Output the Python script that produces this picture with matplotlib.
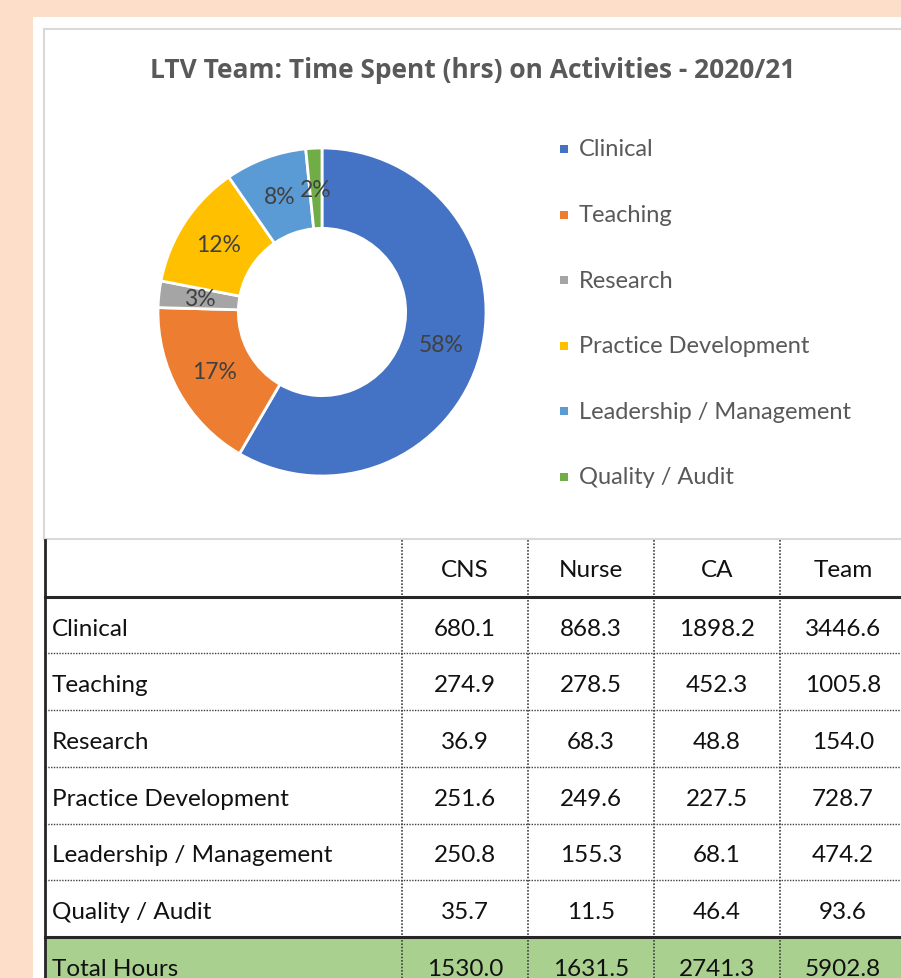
import matplotlib
matplotlib.use("Agg")
import matplotlib.pyplot as plt
from matplotlib.patches import Rectangle

# ---------------- data ----------------
title = "LTV Team: Time Spent (hrs) on Activities - 2020/21"
categories = ["Clinical", "Teaching", "Research", "Practice Development",
              "Leadership / Management", "Quality / Audit"]
columns = ["CNS", "Nurse", "CA", "Team"]
cns = [680.1, 274.9, 36.9, 251.6, 250.8, 35.7]
nurse = [868.3, 278.5, 68.3, 249.6, 155.3, 11.5]
ca = [1898.2, 452.3, 48.8, 227.5, 68.1, 46.4]
team = [3446.6, 1005.8, 154.0, 728.7, 474.2, 93.6]
total_label = "Total Hours"
totals = [1530.0, 1631.5, 2741.3, 5902.8]
colors = ["#4472C4", "#ED7D31", "#A5A5A5", "#FFC000", "#5B9BD5", "#70AD47"]

FONT = "Lato"
W, H = 901, 979
fig = plt.figure(figsize=(W / 100, H / 100), dpi=100)
fig.patch.set_facecolor("#FDDFC9")

# background / table axes in pixel coordinates
bg = fig.add_axes([0, 0, 1, 1])
bg.set_xlim(0, W)
bg.set_ylim(H, 0)
bg.axis("off")

# white panel
bg.add_patch(Rectangle((33, 18), W - 33 + 5, H, facecolor="white", edgecolor="none", zorder=0))
# chart area border
bg.plot([44, 44], [30, 540], color="#D9D9D9", lw=1.5, zorder=1)
bg.plot([44, W + 5], [30, 30], color="#D9D9D9", lw=1.5, zorder=1)
bg.plot([44, W + 5], [540, 540], color="#D9D9D9", lw=1.5, zorder=1)

bg.text(473, 70, title, ha="center", va="center", fontsize=19, fontweight="bold",
        color="#595959", family="Open Sans")

# ---------------- donut ----------------
cx, cy, R = 322, 313, 164
pax = fig.add_axes([(cx - R) / W, (H - cy - R) / H, 2 * R / W, 2 * R / H])
wedges, texts, autotexts = pax.pie(
    team, colors=colors, startangle=90, counterclock=False, radius=1.0,
    autopct=lambda p: f"{p:.0f}%", pctdistance=0.75,
    wedgeprops=dict(width=0.49, edgecolor="white", linewidth=2),
    textprops=dict(fontsize=16.5, color="#404040", family=FONT))
pax.set_xlim(-1, 1)
pax.set_ylim(-1, 1)
pax.set_aspect("auto")
pax.axis("off")

# legend
leg_y0, leg_dy = 150, 65.6
for i, (cat, col) in enumerate(zip(categories, colors)):
    y = leg_y0 + i * leg_dy
    bg.add_patch(Rectangle((560, y - 4), 8, 8, facecolor=col, edgecolor="none", zorder=3))
    bg.text(579, y, cat, ha="left", va="center", fontsize=17, color="#595959", family=FONT)

# ---------------- table ----------------
col_edges = [45, 402, 528, 654, 780, W + 5]
row_top = 541
row_h = 56.7
n_rows = 1 + len(categories) + 1
row_edges = [row_top + i * row_h for i in range(n_rows + 1)]
text_col = "#111111"

# total row fill
bg.add_patch(Rectangle((col_edges[0], row_edges[-2]), W, row_h + 10,
                       facecolor="#A9D08E", edgecolor="none", zorder=1))

dot = (0, (1, 1))
# horizontal dotted separators among body rows
for i in range(2, n_rows - 1):
    bg.plot([col_edges[0], W + 5], [row_edges[i]] * 2, color="#404040", lw=1,
            linestyle=dot, zorder=2)
# vertical dotted separators
for x in col_edges[1:-1]:
    bg.plot([x, x], [row_top, H + 5], color="#404040", lw=1.2, linestyle=dot, zorder=2)
# solid lines
bg.plot([col_edges[0], col_edges[0]], [row_top, H + 5], color="#262626", lw=2, zorder=3)
bg.plot([col_edges[0], W + 5], [row_edges[1]] * 2, color="#262626", lw=2.2, zorder=3)
bg.plot([col_edges[0], W + 5], [row_edges[-2]] * 2, color="#262626", lw=2.2, zorder=3)

fs = 17.5
for j, name in enumerate(columns):
    xc = (col_edges[j + 1] + col_edges[j + 2]) / 2
    bg.text(xc, (row_edges[0] + row_edges[1]) / 2 + 1, name, ha="center", va="center",
            fontsize=fs, color=text_col, family=FONT)

body = list(zip(cns, nurse, ca, team))
for i, cat in enumerate(categories):
    yc = (row_edges[i + 1] + row_edges[i + 2]) / 2 + 3
    bg.text(52, yc, cat, ha="left", va="center", fontsize=fs, color=text_col, family=FONT)
    for j, v in enumerate(body[i]):
        xc = (col_edges[j + 1] + col_edges[j + 2]) / 2
        bg.text(xc, yc, f"{v:.1f}", ha="center", va="center", fontsize=fs,
                color=text_col, family=FONT)

yc = (row_edges[-2] + row_edges[-1]) / 2 + 3
bg.text(52, yc, total_label, ha="left", va="center", fontsize=fs, color=text_col, family=FONT)
for j, v in enumerate(totals):
    xc = (col_edges[j + 1] + col_edges[j + 2]) / 2
    bg.text(xc, yc, f"{v:.1f}", ha="center", va="center", fontsize=fs,
            color=text_col, family=FONT)

fig.savefig("out.png", dpi=100, facecolor=fig.get_facecolor())
